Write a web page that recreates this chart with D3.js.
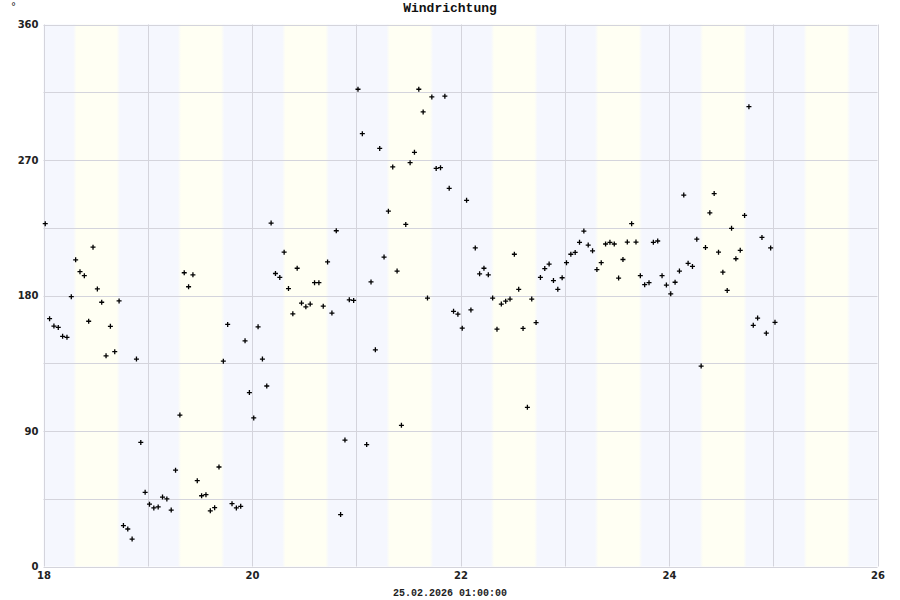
<!DOCTYPE html>
<html>
<head>
<meta charset="utf-8">
<script src="https://cdn.jsdelivr.net/npm/d3@7"></script>
<style>
html,body{margin:0;padding:0;background:#fff;}
svg{display:block;}
</style>
</head>
<body>
<script>
// ---- data ----
const title = "Windrichtung";
const unitLabel = "°";
const footerLabel = "25.02.2026 01:00:00";
const xDomain = [18, 26];
const xTickLabels = [18, 20, 22, 24, 26];
const yTickLabels = [0, 90, 180, 270, 360];
const dayStarts = [18, 19, 20, 21, 22, 23, 24, 25];
const sunrise = [0.285, 0.288, 0.29, 0.29, 0.292, 0.29, 0.295, 0.29];   // fraction of day
const sunset  = [0.733, 0.735, 0.737, 0.738, 0.74, 0.742, 0.745, 0.737];
const firstSampleHour = 0.4;   // hours after day 18 00:00, then hourly
const windDir = [
 227.7,164.6,159.7,158.8,152.9,152.2,179.2,203.7,195.8,193.2,162.9,212.1,184.4,175.5,139.9,159.5,
 142.7,176.4,27.2,24.9,18.2,137.8,82.4,49.3,41.4,38.9,39.6,46.1,44.9,37.5,64.0,100.6,
 195.1,185.8,193.7,57.0,47.0,47.7,37.0,39.1,66.1,136.4,160.8,41.7,38.9,40.0,149.9,115.5,
 98.7,159.2,137.8,119.9,228.1,194.6,192.0,208.8,184.6,167.8,198.1,175.0,172.5,174.3,188.5,188.5,
 172.9,202.3,168.3,223.0,34.5,84.0,177.1,176.7,317.0,287.5,81.0,189.0,143.9,277.7,205.5,236.0,
 265.4,196.2,93.8,227.2,268.2,275.1,317.0,301.9,178.3,311.9,264.4,264.9,312.4,251.2,169.5,167.6,
 158.3,243.2,170.4,211.6,194.4,198.1,193.7,178.3,157.6,174.3,176.2,177.6,207.4,184.1,158.1,105.7,
 177.6,162.0,192.0,197.9,200.9,189.9,184.1,191.8,201.8,207.4,208.6,215.3,222.8,213.5,209.7,197.2,
 201.8,214.2,215.3,214.2,191.6,203.9,215.5,227.7,215.5,193.2,187.2,188.5,215.3,216.2,193.2,186.9,
 181.1,188.8,196.2,246.7,201.4,199.3,217.4,133.1,211.8,234.9,247.7,208.8,195.5,183.4,224.6,204.4,
 210.0,233.2,305.4,160.2,165.0,218.6,155.0,211.6,162.2
];

// ---- chart ----
const W = 900, H = 600;
const pL = 43.5, pR = 877.5, pT = 24.5, pB = 566.5;
const svg = d3.select("body").append("svg").attr("width", W).attr("height", H);

const x = d3.scaleLinear().domain(xDomain).range([pL, pR]);
const y = d3.scaleLinear().domain([0, 360]).range([pB, pT]);

const nightCol = "#f5f7fe", dayCol = "#fffff3";
const defs = svg.append("defs");
const grad = defs.append("linearGradient").attr("id", "dayg").attr("x1", 0).attr("x2", 1).attr("y1", 0).attr("y2", 0);
grad.append("stop").attr("offset", "0%").attr("stop-color", nightCol);
grad.append("stop").attr("offset", "7%").attr("stop-color", dayCol);
grad.append("stop").attr("offset", "93%").attr("stop-color", dayCol);
grad.append("stop").attr("offset", "100%").attr("stop-color", nightCol);

svg.append("rect").attr("x", pL).attr("y", pT).attr("width", pR - pL).attr("height", pB - pT)
  .attr("fill", nightCol);
svg.append("g").selectAll("rect").data(dayStarts).join("rect")
  .attr("x", (d, i) => x(d + sunrise[i]))
  .attr("width", (d, i) => x(d + sunset[i]) - x(d + sunrise[i]))
  .attr("y", pT).attr("height", pB - pT)
  .attr("fill", "url(#dayg)");

// grid
const gridCol = "#d4d4dc";
const yGrid = d3.range(0, 361, 45);
const xGrid = d3.range(xDomain[0], xDomain[1] + 1, 1);
svg.append("g").selectAll("line").data(yGrid).join("line")
  .attr("x1", pL).attr("x2", pR)
  .attr("y1", d => Math.round(y(d)) + 0.5).attr("y2", d => Math.round(y(d)) + 0.5)
  .attr("stroke", gridCol).attr("stroke-width", 1);
svg.append("g").selectAll("line").data(xGrid).join("line")
  .attr("y1", pT).attr("y2", pB)
  .attr("x1", d => Math.round(x(d)) + 0.5).attr("x2", d => Math.round(x(d)) + 0.5)
  .attr("stroke", gridCol).attr("stroke-width", 1);

// axes (labels only)
const yAxis = d3.axisLeft(y).tickValues(yTickLabels).tickSize(0).tickPadding(5);
const gy = svg.append("g").attr("transform", `translate(${pL},0)`).call(yAxis);
gy.select(".domain").remove();
gy.selectAll("text").attr("font-family", "DejaVu Sans, sans-serif").attr("font-weight", "bold")
  .attr("font-size", 10).attr("fill", "#222");

const xAxis = d3.axisBottom(x).tickValues(xTickLabels).tickSize(0).tickPadding(5).tickFormat(d3.format("d"));
const gx = svg.append("g").attr("transform", `translate(0,${pB})`).call(xAxis);
gx.select(".domain").remove();
gx.selectAll("text").attr("font-family", "DejaVu Sans, sans-serif").attr("font-weight", "bold")
  .attr("font-size", 10).attr("fill", "#222");

// points
const pts = windDir.map((v, i) => ({t: xDomain[0] + (firstSampleHour + i) / 24, v}));
svg.append("g").selectAll("path").data(pts).join("path")
  .attr("transform", d => `translate(${x(d.t)},${y(d.v)})`)
  .attr("d", "M-2.5,0H2.5M0,-2.5V2.5")
  .attr("stroke", "#000").attr("stroke-width", 1.3).attr("fill", "none");

// texts
svg.append("text").attr("x", 450).attr("y", 12).attr("text-anchor", "middle")
  .attr("font-family", "Liberation Mono, Courier New, monospace").attr("font-weight", "bold")
  .attr("font-size", 13).attr("fill", "#111").text(title);
svg.append("text").attr("x", 11).attr("y", 10)
  .attr("font-family", "DejaVu Sans, sans-serif").attr("font-size", 10).attr("fill", "#222").text(unitLabel);
svg.append("text").attr("x", 450).attr("y", 596).attr("text-anchor", "middle")
  .attr("font-family", "Liberation Mono, Courier New, monospace").attr("font-weight", "bold")
  .attr("font-size", 10).attr("fill", "#222").text(footerLabel);
</script>
</body>
</html>
